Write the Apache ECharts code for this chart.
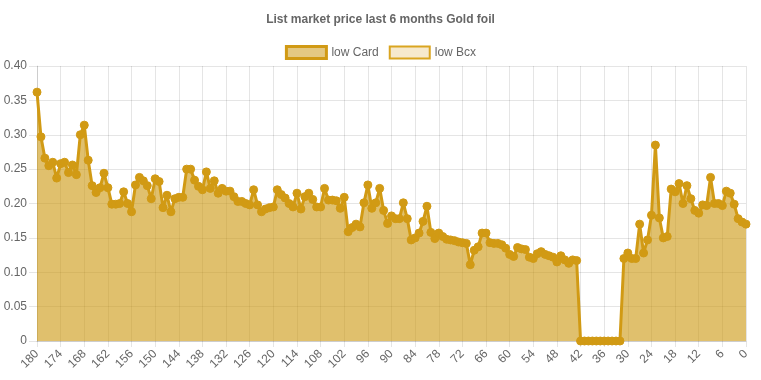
<!DOCTYPE html>
<html>
<head>
<meta charset="utf-8">
<script src="https://cdn.jsdelivr.net/npm/echarts@6/dist/echarts.min.js"></script>
<style>
html,body{margin:0;padding:0;background:#fff;}
#c{width:761px;height:380px;}
</style>
</head>
<body>
<div id="c"></div>
<script>
var titleText = 'List market price last 6 months Gold foil';
var seriesNames = ['low Card', 'low Bcx'];
var days = [];
for (var d = 180; d >= 0; d--) days.push(String(d));
var yTicks = [0, 0.05, 0.10, 0.15, 0.20, 0.25, 0.30, 0.35, 0.40];

var lowCard = [
0.362,0.297,0.266,0.255,0.26,0.237,0.258,0.26,0.245,0.256,
0.242,0.30,0.314,0.263,0.226,0.216,0.223,0.244,0.223,0.199,
0.199,0.2,0.217,0.2,0.188,0.227,0.238,0.233,0.226,0.207,
0.236,0.232,0.194,0.212,0.188,0.207,0.209,0.209,0.25,0.25,
0.234,0.225,0.22,0.246,0.222,0.233,0.215,0.222,0.218,0.218,
0.21,0.203,0.203,0.2,0.198,0.22,0.198,0.188,0.192,0.194,
0.195,0.22,0.213,0.208,0.2,0.195,0.215,0.192,0.21,0.215,
0.206,0.195,0.195,0.222,0.205,0.205,0.204,0.193,0.209,0.159,
0.165,0.17,0.166,0.201,0.227,0.193,0.201,0.222,0.19,0.171,
0.182,0.178,0.178,0.201,0.178,0.147,0.15,0.157,0.174,0.196,
0.158,0.149,0.157,0.152,0.148,0.147,0.146,0.144,0.143,0.142,
0.111,0.132,0.137,0.157,0.157,0.143,0.142,0.142,0.14,0.135,
0.126,0.123,0.136,0.134,0.133,0.122,0.12,0.127,0.13,0.126,
0.124,0.122,0.115,0.124,0.118,0.113,0.118,0.117,0,0,
0,0,0,0,0,0,0,0,0,0.12,
0.128,0.12,0.12,0.17,0.128,0.147,0.183,0.285,0.179,0.15,
0.152,0.221,0.217,0.229,0.2,0.226,0.207,0.19,0.186,0.198,
0.197,0.238,0.2,0.2,0.197,0.218,0.215,0.199,0.178,0.173,
0.17
];
var lowBcx = [];

var font = '"Helvetica Neue", Helvetica, Arial, "Liberation Sans", sans-serif';
var gridColor = 'rgba(0,0,0,0.1)';
var chart = echarts.init(document.getElementById('c'), null, {renderer: 'canvas'});
var showEvery = function (idx) { return idx % 6 === 0; };
chart.setOption({
  animation: false,
  backgroundColor: '#fff',
  title: {
    text: titleText, left: 'center', top: 9,
    textStyle: {fontFamily: font, fontSize: 12, fontWeight: 'bold', color: '#666'}
  },
  legend: {
    top: 40, left: 'center', itemWidth: 40, itemHeight: 12, itemGap: 10,
    icon: 'rect',
    textStyle: {fontFamily: font, fontSize: 12, color: '#666'},
    data: [
      {name: seriesNames[0], itemStyle: {color: 'rgb(228,200,130)', borderColor: '#D19A14', borderWidth: 3}},
      {name: seriesNames[1], itemStyle: {color: 'rgb(246,233,205)', borderColor: '#DAA520', borderWidth: 2}}
    ]
  },
  grid: {left: 37, right: 15, top: 66, bottom: 39, containLabel: false},
  xAxis: {
    type: 'category', data: days, boundaryGap: false,
    axisLine: {show: true, lineStyle: {color: gridColor}},
    axisTick: {show: true, interval: showEvery, length: 6, lineStyle: {color: gridColor}},
    splitLine: {show: true, interval: showEvery, lineStyle: {color: gridColor}},
    axisLabel: {interval: showEvery, rotate: 45, fontFamily: font, fontSize: 12, color: '#666', margin: 11}
  },
  yAxis: {
    type: 'value', min: 0, max: yTicks[yTicks.length - 1], interval: 0.05,
    axisLine: {show: true, lineStyle: {color: gridColor}},
    axisTick: {show: true, length: 8, lineStyle: {color: gridColor}},
    splitLine: {show: true, lineStyle: {color: gridColor}},
    axisLabel: {fontFamily: font, fontSize: 12, color: '#666', margin: 10,
      formatter: function (v) { return v === 0 ? '0' : v.toFixed(2); }}
  },
  series: [
    {
      name: seriesNames[0], type: 'line', data: lowCard,
      symbol: 'circle', symbolSize: 8, showAllSymbol: true,
      lineStyle: {color: '#D19A14', width: 3},
      itemStyle: {color: '#D19A14', borderColor: '#D19A14'},
      areaStyle: {color: 'rgb(204,150,12)', opacity: 0.6, origin: 'start'},
      z: 2
    },
    {
      name: seriesNames[1], type: 'line', data: lowBcx,
      symbol: 'circle', symbolSize: 8,
      lineStyle: {color: '#DAA520', width: 2},
      itemStyle: {color: '#DAA520'},
      areaStyle: {color: 'rgb(218,165,32)', opacity: 0.2}
    }
  ]
});
</script>
</body>
</html>
